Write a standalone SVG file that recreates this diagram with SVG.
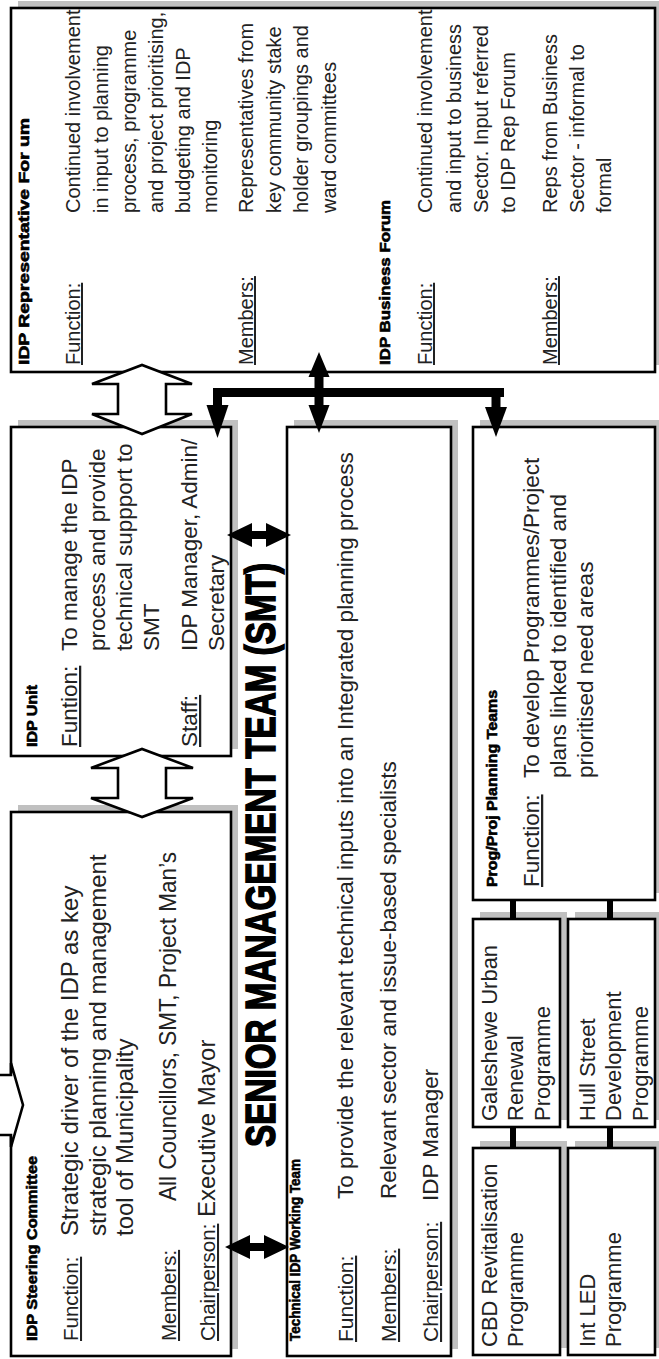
<svg xmlns="http://www.w3.org/2000/svg" width="659" height="1359" viewBox="0 0 659 1359">
<style>
.sh{fill:#c0c0c0}
.bx{fill:#fff;stroke:#000;stroke-width:2.6}
.t{font-family:"Liberation Sans",Arial,Helvetica,sans-serif;fill:#222}
.u{text-decoration:underline}
.h{font-family:"Liberation Sans Narrow","Liberation Sans",Arial,sans-serif;font-weight:bold;fill:#000;stroke:#000;stroke-width:0.6}
.big{stroke-width:1.6}
.ha{fill:#fff;stroke:#000;stroke-width:2.6;stroke-linejoin:miter}
.blk{fill:#000}
</style>
<rect width="659" height="1359" fill="#fff"/>
<g transform="translate(0,1359) rotate(-90)">
 <g id="steering">
  <rect class="sh" x="10" y="18" width="544" height="220"/>
  <rect class="bx" x="3" y="11" width="544" height="220"/>
  <text class="h" x="18" y="37" font-size="14.5" textLength="185" lengthAdjust="spacingAndGlyphs">IDP Steering Committee</text>
  <g class="t" font-size="24">
   <text class="u" x="18" y="78" font-size="20.5">Function:</text>
   <text x="123" y="78">Strategic driver of the IDP as key</text>
   <text x="123" y="106">strategic planning and management</text>
   <text x="123" y="133">tool of Municipality</text>
   <text class="u" x="18" y="176" font-size="20.5">Members:</text>
   <text x="158" y="176" textLength="349" lengthAdjust="spacingAndGlyphs">All Councillors, SMT, Project Man’s</text>
   <text class="u" x="18" y="215" font-size="20.5">Chairperson:</text>
   <text x="142" y="215">Executive Mayor</text>
  </g>
 </g>
 <g id="idp-unit">
  <rect class="sh" x="610" y="18" width="329" height="220"/>
  <rect class="bx" x="603" y="11" width="329" height="220"/>
  <text class="h" x="612" y="37" font-size="14.5" textLength="62" lengthAdjust="spacingAndGlyphs">IDP Unit</text>
  <g class="t" font-size="22.5">
   <text class="u" x="612" y="77">Funtion:</text>
   <text x="708" y="77">To manage the IDP</text>
   <text x="708" y="105">process and provide</text>
   <text x="708" y="132">technical suppport to</text>
   <text x="708" y="159">SMT</text>
   <text class="u" x="612" y="197">Staff:</text>
   <text x="708" y="197">IDP Manager, Admin/</text>
   <text x="708" y="224">Secretary</text>
  </g>
 </g>
 <g id="rep-forum">
  <rect class="sh" x="994" y="18" width="364" height="644"/>
  <rect class="bx" x="987" y="11" width="364" height="644"/>
  <text class="h" x="994" y="29" font-size="14.5" textLength="247" lengthAdjust="spacingAndGlyphs">IDP Representative For um</text>
  <g class="t" font-size="20">
   <text class="u" x="994" y="80">Function:</text>
   <text x="1146" y="80">Continued involvement</text>
   <text x="1146" y="108">in input to planning</text>
   <text x="1146" y="136">process, programme</text>
   <text x="1146" y="163">and project prioritising,</text>
   <text x="1146" y="190">budgeting and IDP</text>
   <text x="1146" y="217">monitoring</text>
   <text class="u" x="994" y="253">Members:</text>
   <text x="1146" y="253">Representatives from</text>
   <text x="1146" y="281">key community stake</text>
   <text x="1146" y="308">holder groupings and</text>
   <text x="1146" y="336">ward committees</text>
  </g>
  <text class="h" x="994" y="390" font-size="14.5" textLength="165" lengthAdjust="spacingAndGlyphs">IDP Business Forum</text>
  <g class="t" font-size="20">
   <text class="u" x="994" y="432">Function:</text>
   <text x="1146" y="432">Continued involvement</text>
   <text x="1146" y="461">and input to business</text>
   <text x="1146" y="488">Sector. Input referred</text>
   <text x="1146" y="515">to IDP Rep Forum</text>
   <text class="u" x="994" y="557">Members:</text>
   <text x="1146" y="557">Reps from Business</text>
   <text x="1146" y="584">Sector - informal to</text>
   <text x="1146" y="611">formal</text>
  </g>
 </g>
 <g id="smt-label">
  <text class="h big" x="212" y="275" font-size="42" textLength="584" lengthAdjust="spacingAndGlyphs">SENIOR MANAGEMENT TEAM (SMT)</text>
 </g>
 <g id="technical-team">
  <rect class="sh" x="10" y="294" width="929" height="164"/>
  <rect class="bx" x="3" y="287" width="929" height="164"/>
  <text class="h" x="18" y="300" font-size="14.5" textLength="182" lengthAdjust="spacingAndGlyphs">Technical IDP Working Team</text>
  <g class="t" font-size="22.5">
   <text class="u" x="17" y="353" font-size="21">Function:</text>
   <text x="160" y="353">To provide the relevant technical inputs into an Integrated planning process</text>
   <text class="u" x="17" y="396" font-size="21">Members:</text>
   <text x="160" y="396">Relevant sector and issue-based specialists</text>
   <text class="u" x="17" y="438" font-size="21">Chairperson:</text>
   <text x="158" y="438">IDP Manager</text>
  </g>
 </g>
 <g id="prog-planning">
  <rect class="sh" x="466" y="480" width="473" height="182"/>
  <rect class="bx" x="459" y="473" width="473" height="182"/>
  <text class="h" x="472" y="497" font-size="14.5" textLength="197" lengthAdjust="spacingAndGlyphs">Prog/Proj Planning Teams</text>
  <g class="t" font-size="22.5">
   <text class="u" x="472" y="539">Function:</text>
   <text x="581" y="539">To develop Programmes/Project</text>
   <text x="581" y="566">plans linked to identified and</text>
   <text x="581" y="593">prioritised need areas</text>
  </g>
 </g>
 <g id="galeshewe">
  <rect class="sh" x="239" y="480" width="208" height="87"/>
  <rect class="bx" x="232" y="473" width="208" height="87"/>
  <g class="t" font-size="22"><text x="238" y="497">Galeshewe Urban</text><text x="238" y="523">Renewal</text><text x="238" y="550">Programme</text></g>
 </g>
 <g id="hull-street">
  <rect class="sh" x="239" y="575" width="208" height="87"/>
  <rect class="bx" x="232" y="568" width="208" height="87"/>
  <g class="t" font-size="22"><text x="238" y="595">Hull Street</text><text x="238" y="621">Development</text><text x="238" y="648">Programme</text></g>
 </g>
 <g id="cbd">
  <rect class="sh" x="11" y="480" width="207" height="87"/>
  <rect class="bx" x="4" y="473" width="207" height="87"/>
  <g class="t" font-size="22"><text x="12" y="497">CBD Revitalisation</text><text x="12" y="523">Programme</text></g>
 </g>
 <g id="int-led">
  <rect class="sh" x="11" y="575" width="207" height="87"/>
  <rect class="bx" x="4" y="568" width="207" height="87"/>
  <g class="t" font-size="22"><text x="12" y="595">Int LED</text><text x="12" y="621">Programme</text></g>
 </g>
 <g id="connectors">
  <polygon class="ha" points="925,142 945,92 945,118 975,118 975,92 994,142 975,192 975,166 945,166 945,192"/>
  <polygon class="ha" points="542,142 561,91 561,118 591,118 591,91 610,142 591,193 591,166 561,166 561,193"/>
  <polygon class="ha" points="224,-5 284,-5 284,11 296,11 254,23 212,11 224,11"/>
  <polygon class="blk" points="112,225 124,250 116,250 116,264 124,264 112,289 100,264 108,264 108,250 100,250"/>
  <polygon class="blk" points="824,227 836,252 828,252 828,266 836,266 824,291 812,266 820,266 820,252 812,252"/>
  <rect class="blk" x="962" y="213" width="9" height="291"/>
  <rect class="blk" x="952" y="213" width="19" height="9"/>
  <polygon class="blk" points="954,206.5 954,228.5 921,217.5"/>
  <rect class="blk" x="951" y="491.5" width="20" height="9"/>
  <polygon class="blk" points="952,485 952,507 922,496"/>
  <polygon class="blk" points="926,319 954,308.5 954,314.5 982,314.5 982,308.5 1007,319 982,329.5 982,323.5 954,323.5 954,329.5"/>
  <rect class="blk" x="440" y="510" width="19" height="6"/>
  <rect class="blk" x="440" y="607" width="19" height="6"/>
  <rect class="blk" x="211" y="510" width="21" height="6"/>
  <rect class="blk" x="211" y="607" width="21" height="6"/>
 </g>
</g>
</svg>
